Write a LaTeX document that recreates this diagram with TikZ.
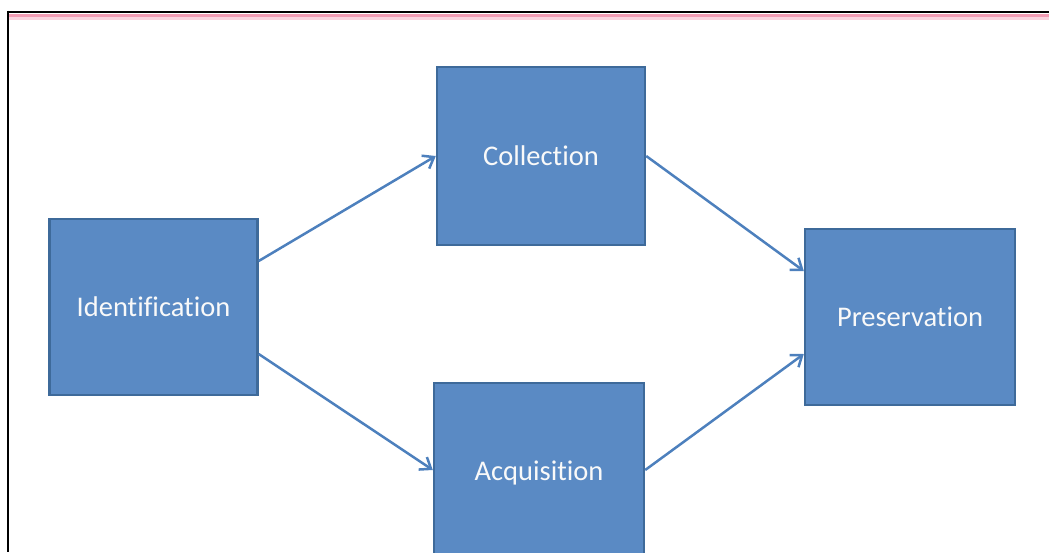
\documentclass[tikz,border=0pt]{standalone}
\usepackage{fontspec}
\setmainfont{Carlito}[Ligatures=NoCommon]
\usetikzlibrary{arrows.meta}
\definecolor{boxfill}{HTML}{5A8AC4}
\definecolor{boxedge}{HTML}{3E6A9A}
\definecolor{linkblue}{HTML}{4D80BD}
\definecolor{rulepink}{HTML}{F29CB4}
\definecolor{rulepinklight}{HTML}{F9D3DE}
\begin{document}
\begin{tikzpicture}[x=1pt,y=-1pt,
  stage/.style={draw=boxedge, line width=2.4pt, fill=boxfill, text=white!95!gray,
    font=\fontsize{28.5}{34}\selectfont, inner sep=0pt},
  link/.style={draw=linkblue, line width=2.5pt,
    -{Straight Barb[length=10pt,width=15pt,line width=2.5pt]}}]
  \useasboundingbox (0,0) rectangle (1049,552);
  % page frame and ruled header line
  \draw[rulepinklight, line width=6pt] (9,16.5) -- (1049,16.5);
  \draw[rulepink, line width=2.5pt] (9,15.5) -- (1049,15.5);
  \draw[black, line width=2pt] (8,11.5) -- (1049,11.5);
  \draw[black, line width=2pt] (8,10.5) -- (8,552);
  % stages
  \node[stage, minimum width=208pt, minimum height=176pt] (ident) at (153.5,307) {Identification};
  \node[stage, minimum width=208pt, minimum height=178pt] (coll) at (541,156) {Collection};
  \node[stage, minimum width=210pt, minimum height=180pt] (acq) at (539,473) {Acquisition};
  \node[stage, minimum width=210pt, minimum height=176pt] (pres) at (910,317) {Preservation};
  % connectors
  \draw[link] (ident.east |- 0,261) -- (coll.west);
  \draw[link] (ident.east |- 0,354) -- (acq.west |- 0,470);
  \draw[link] (coll.east) -- (pres.west |- 0,271);
  \draw[link] (acq.east |- 0,470) -- (pres.west |- 0,354);
\end{tikzpicture}
\end{document}
